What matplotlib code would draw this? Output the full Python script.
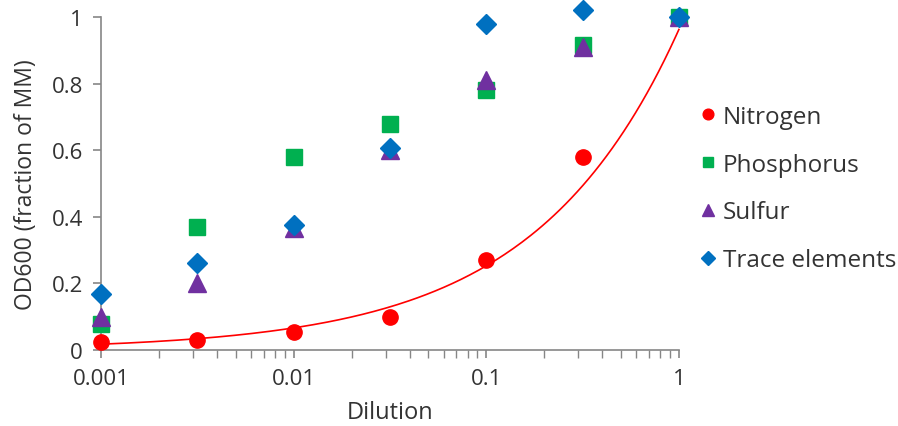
import matplotlib.pyplot as plt
import numpy as np

# dilution steps (half-decade)
dilution = [0.001, 0.00316, 0.01, 0.0316, 0.1, 0.316, 1.0]

nitrogen = [0.024, 0.030, 0.054, 0.100, 0.270, 0.580, 1.000]
phosphorus = [0.078, 0.370, 0.580, 0.680, 0.780, 0.915, 1.000]
sulfur = [0.100, 0.200, 0.366, 0.600, 0.810, 0.910, 1.000]
trace = [0.168, 0.260, 0.375, 0.607, 0.980, 1.020, 1.000]

y_ticks = [0, 0.2, 0.4, 0.6, 0.8, 1]
y_ticklabels = ['0', '0.2', '0.4', '0.6', '0.8', '1']
x_ticks = [0.001, 0.01, 0.1, 1]
x_ticklabels = ['0.001', '0.01', '0.1', '1']

plt.rcParams['font.family'] = ['Open Sans', 'DejaVu Sans']

fig = plt.figure(figsize=(8.98, 4.27), dpi=100)
ax = fig.add_axes([0.1125, 0.178, 0.6435, 0.78])

axis_col = '#868686'
text_col = '#333333'

# power-law trendline fitted to the nitrogen series
b, log_a = np.polyfit(np.log10(dilution), np.log10(nitrogen), 1)
xf = np.logspace(-3, 0, 200)
ax.plot(xf, 10 ** log_a * xf ** b, color='#FF0000', lw=1.2, zorder=2, clip_on=False)

ax.plot(dilution, nitrogen, 'o', color='#FF0000', ms=11, label='Nitrogen', clip_on=False, zorder=3)
ax.plot(dilution, phosphorus, 's', color='#00B050', ms=11, label='Phosphorus', clip_on=False, zorder=3)
ax.plot(dilution, sulfur, '^', color='#7030A0', ms=13, label='Sulfur', clip_on=False, zorder=4)
ax.plot(dilution, trace, 'D', color='#0070C0', ms=10, label='Trace elements', clip_on=False, zorder=5)

ax.set_xscale('log')
ax.set_xlim(0.001, 1)
ax.set_ylim(0, 1)
ax.set_xticks(x_ticks)
ax.set_xticklabels(x_ticklabels)
ax.set_yticks(y_ticks)
ax.set_yticklabels(y_ticklabels)

for s in ['top', 'right']:
    ax.spines[s].set_visible(False)
for s in ['left', 'bottom']:
    ax.spines[s].set_color(axis_col)
    ax.spines[s].set_linewidth(1.2)

ax.tick_params(axis='both', which='major', direction='out', length=6, width=1.2,
               color=axis_col, labelsize=16, labelcolor=text_col, pad=7)
ax.tick_params(axis='x', which='minor', direction='out', length=6, width=1.0, color=axis_col)

ax.set_xlabel('Dilution', fontsize=17, color=text_col, labelpad=8)
ax.set_ylabel('OD600 (fraction of MM)', fontsize=16.5, color=text_col, labelpad=10)

ax.legend(loc='center left', bbox_to_anchor=(0.99, 0.485), frameon=False, fontsize=17.5,
          labelcolor=text_col, handletextpad=0.05, labelspacing=0.98, markerscale=0.7,
          handlelength=1.1)

fig.savefig('out.png', dpi=100)
